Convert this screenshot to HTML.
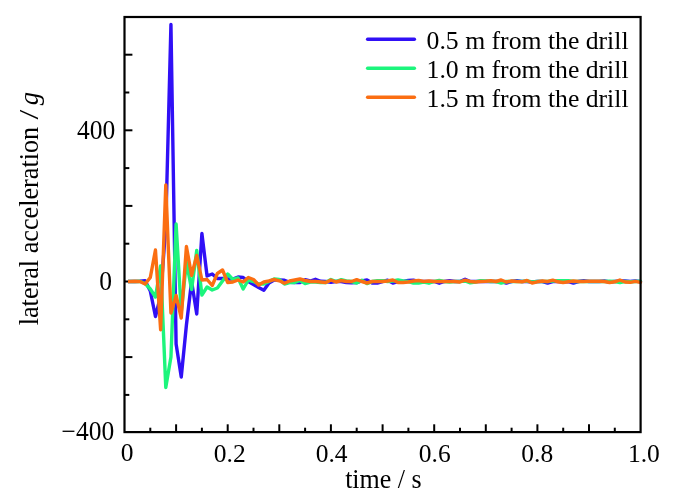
<!DOCTYPE html>
<html><head><meta charset="utf-8"><title>lateral acceleration</title>
<style>
html,body{margin:0;padding:0;background:#fff;}
body{width:700px;height:499px;overflow:hidden;}
svg{display:block;}
text{font-family:"Liberation Serif","Times New Roman",serif;font-size:25.5px;fill:#000;}
.c{fill:none;stroke-width:3.4;stroke-linejoin:round;stroke-linecap:round;}
.t line{stroke:#000;stroke-width:2;}
</style></head><body>
<svg width="700" height="499" viewBox="0 0 700 499">
<rect x="0" y="0" width="700" height="499" fill="#ffffff"/>
<g class="t"><line x1="124.5" y1="394.9" x2="129.3" y2="394.9"/><line x1="124.5" y1="357.1" x2="132.4" y2="357.1"/><line x1="124.5" y1="319.3" x2="129.3" y2="319.3"/><line x1="124.5" y1="281.5" x2="132.4" y2="281.5"/><line x1="124.5" y1="243.7" x2="129.3" y2="243.7"/><line x1="124.5" y1="205.9" x2="132.4" y2="205.9"/><line x1="124.5" y1="168.1" x2="129.3" y2="168.1"/><line x1="124.5" y1="130.3" x2="132.4" y2="130.3"/><line x1="124.5" y1="92.5" x2="129.3" y2="92.5"/><line x1="124.5" y1="54.7" x2="132.4" y2="54.7"/><line x1="150.3" y1="432.1" x2="150.3" y2="427.7"/><line x1="176.1" y1="432.1" x2="176.1" y2="424.3"/><line x1="201.9" y1="432.1" x2="201.9" y2="427.7"/><line x1="227.7" y1="432.1" x2="227.7" y2="424.3"/><line x1="253.5" y1="432.1" x2="253.5" y2="427.7"/><line x1="279.3" y1="432.1" x2="279.3" y2="424.3"/><line x1="305.1" y1="432.1" x2="305.1" y2="427.7"/><line x1="330.9" y1="432.1" x2="330.9" y2="424.3"/><line x1="356.7" y1="432.1" x2="356.7" y2="427.7"/><line x1="382.6" y1="432.1" x2="382.6" y2="424.3"/><line x1="408.4" y1="432.1" x2="408.4" y2="427.7"/><line x1="434.2" y1="432.1" x2="434.2" y2="424.3"/><line x1="460.0" y1="432.1" x2="460.0" y2="427.7"/><line x1="485.8" y1="432.1" x2="485.8" y2="424.3"/><line x1="511.6" y1="432.1" x2="511.6" y2="427.7"/><line x1="537.4" y1="432.1" x2="537.4" y2="424.3"/><line x1="563.2" y1="432.1" x2="563.2" y2="427.7"/><line x1="589.0" y1="432.1" x2="589.0" y2="424.3"/><line x1="614.8" y1="432.1" x2="614.8" y2="427.7"/></g>
<clipPath id="cp"><rect x="128" y="0" width="520" height="499"/></clipPath>
<g clip-path="url(#cp)">
<path class="c" stroke="#3010f6" d="M124.50 281.5 L129.66 281.5 L134.82 281.5 L139.98 281.3 L145.14 280.8 L150.30 291.0 L155.46 316.5 L160.62 296.0 L165.78 226.0 L170.94 24.5 L176.10 344.0 L181.26 377.0 L186.42 325.0 L191.58 281.5 L196.74 314.0 L201.90 233.5 L207.06 276.0 L212.22 274.0 L217.38 278.5 L222.54 278.5 L227.70 279.0 L232.86 279.0 L238.02 277.0 L243.18 277.5 L248.34 281.5 L253.50 284.5 L258.66 287.5 L263.82 290.3 L268.98 283.0 L274.14 280.0 L279.30 280.0 L284.46 280.3 L289.62 282.3 L294.78 282.5 L299.94 282.5 L305.10 279.7 L310.26 281.0 L315.42 279.3 L320.58 281.3 L325.74 281.5 L330.90 282.3 L336.06 281.5 L341.22 281.5 L346.38 282.6 L351.54 282.7 L356.70 282.6 L361.86 281.0 L367.02 280.0 L372.18 283.0 L377.34 283.0 L382.50 281.5 L387.66 280.2 L392.82 283.0 L397.98 281.5 L403.14 281.5 L408.30 280.5 L413.46 280.2 L418.62 281.5 L423.78 281.5 L428.94 281.5 L434.10 281.5 L439.26 283.2 L444.42 281.5 L449.58 280.6 L454.74 281.5 L459.90 281.5 L465.06 279.3 L470.22 281.5 L475.38 281.5 L480.54 281.5 L485.70 281.5 L490.86 281.5 L496.02 281.5 L501.18 281.5 L506.34 283.0 L511.50 281.5 L516.66 280.6 L521.82 281.5 L526.98 281.5 L532.14 282.0 L537.30 281.5 L542.46 281.5 L547.62 283.0 L552.78 281.5 L557.94 281.5 L563.10 282.0 L568.26 281.5 L573.42 283.0 L578.58 281.5 L583.74 280.6 L588.90 281.5 L594.06 281.5 L599.22 281.5 L604.38 281.0 L609.54 282.0 L614.70 281.5 L619.86 281.0 L625.02 281.0 L630.18 281.5 L635.34 281.0 L640.50 281.8"/>
<path class="c" stroke="#1cf57c" d="M124.50 281.5 L129.66 281.5 L134.82 281.5 L139.98 281.3 L145.14 283.5 L150.30 289.0 L155.46 297.0 L160.62 266.0 L165.78 387.5 L170.94 357.0 L176.10 224.0 L181.26 312.0 L186.42 262.0 L191.58 289.5 L196.74 250.5 L201.90 295.0 L207.06 287.0 L212.22 290.0 L217.38 288.0 L222.54 281.0 L227.70 274.0 L232.86 279.5 L238.02 278.0 L243.18 289.0 L248.34 280.0 L253.50 281.5 L258.66 284.0 L263.82 284.0 L268.98 281.5 L274.14 279.0 L279.30 279.5 L284.46 284.0 L289.62 282.5 L294.78 282.5 L299.94 280.5 L305.10 283.5 L310.26 282.0 L315.42 282.0 L320.58 282.5 L325.74 282.5 L330.90 279.5 L336.06 281.5 L341.22 279.7 L346.38 281.0 L351.54 281.5 L356.70 283.0 L361.86 280.2 L367.02 283.6 L372.18 281.5 L377.34 280.7 L382.50 280.7 L387.66 281.5 L392.82 281.0 L397.98 280.0 L403.14 281.0 L408.30 281.5 L413.46 283.0 L418.62 283.0 L423.78 282.0 L428.94 283.2 L434.10 281.5 L439.26 280.5 L444.42 281.5 L449.58 282.0 L454.74 281.5 L459.90 281.5 L465.06 281.0 L470.22 282.8 L475.38 282.0 L480.54 280.6 L485.70 281.0 L490.86 281.5 L496.02 281.5 L501.18 283.0 L506.34 281.5 L511.50 281.5 L516.66 281.5 L521.82 281.5 L526.98 281.0 L532.14 282.0 L537.30 281.5 L542.46 281.5 L547.62 281.5 L552.78 281.0 L557.94 280.6 L563.10 280.7 L568.26 280.7 L573.42 281.5 L578.58 281.5 L583.74 281.5 L588.90 281.5 L594.06 281.5 L599.22 281.5 L604.38 281.5 L609.54 281.2 L614.70 281.5 L619.86 282.6 L625.02 281.5 L630.18 281.8 L635.34 281.5 L640.50 281.3"/>
<path class="c" stroke="#fb6e12" d="M124.50 281.5 L129.66 281.5 L134.82 281.3 L139.98 281.5 L145.14 284.0 L150.30 277.5 L155.46 250.0 L160.62 329.7 L165.78 185.0 L170.94 313.0 L176.10 295.5 L181.26 318.0 L186.42 246.5 L191.58 275.5 L196.74 255.5 L201.90 280.0 L207.06 279.5 L212.22 285.5 L217.38 273.5 L222.54 270.0 L227.70 282.5 L232.86 282.0 L238.02 280.0 L243.18 282.0 L248.34 277.5 L253.50 279.5 L258.66 285.0 L263.82 282.0 L268.98 281.0 L274.14 279.5 L279.30 280.8 L284.46 283.3 L289.62 281.0 L294.78 280.0 L299.94 279.0 L305.10 280.5 L310.26 281.5 L315.42 281.5 L320.58 282.0 L325.74 282.5 L330.90 280.0 L336.06 282.0 L341.22 280.5 L346.38 281.5 L351.54 281.5 L356.70 279.7 L361.86 281.5 L367.02 283.0 L372.18 281.5 L377.34 281.5 L382.50 281.5 L387.66 281.0 L392.82 280.0 L397.98 282.5 L403.14 282.5 L408.30 282.0 L413.46 281.0 L418.62 280.5 L423.78 281.5 L428.94 281.0 L434.10 281.5 L439.26 281.5 L444.42 281.5 L449.58 281.5 L454.74 281.5 L459.90 282.0 L465.06 280.2 L470.22 281.5 L475.38 282.0 L480.54 281.5 L485.70 281.3 L490.86 280.7 L496.02 281.5 L501.18 280.0 L506.34 282.0 L511.50 281.0 L516.66 281.5 L521.82 281.8 L526.98 280.5 L532.14 283.0 L537.30 281.8 L542.46 281.0 L547.62 281.5 L552.78 280.2 L557.94 281.8 L563.10 282.5 L568.26 281.8 L573.42 281.0 L578.58 281.5 L583.74 281.5 L588.90 281.3 L594.06 281.3 L599.22 281.3 L604.38 281.5 L609.54 282.5 L614.70 281.8 L619.86 280.0 L625.02 282.0 L630.18 282.3 L635.34 281.3 L640.50 282.3"/>
</g>
<rect x="124.5" y="17.0" width="516.1" height="415.1" fill="none" stroke="#000" stroke-width="2.2"/>
<g>
<text transform="translate(127.1 460.9) scale(1.000 1.020)" text-anchor="middle" style="font-size:25.5px;">0</text>
<text transform="translate(229.7 461.6) scale(1.000 1.020)" text-anchor="middle" style="font-size:25.5px;">0.2</text>
<text transform="translate(331.6 461.6) scale(1.000 1.020)" text-anchor="middle" style="font-size:25.5px;">0.4</text>
<text transform="translate(434.7 461.6) scale(1.000 1.020)" text-anchor="middle" style="font-size:25.5px;">0.6</text>
<text transform="translate(537.2 461.6) scale(1.000 1.020)" text-anchor="middle" style="font-size:25.5px;">0.8</text>
<text transform="translate(643.9 461.6) scale(1.000 1.020)" text-anchor="middle" style="font-size:25.5px;">1.0</text>
<text transform="translate(115.2 138.9) scale(1.000 1.040)" text-anchor="end" style="font-size:25.5px;">400</text>
<text transform="translate(112.0 290.0) scale(1.000 1.040)" text-anchor="end" style="font-size:25.5px;">0</text>
<text transform="translate(114.2 439.8) scale(1.000 1.040)" text-anchor="end" style="font-size:25.5px;">−400</text>
<text transform="translate(383.4 487.7) scale(1.000 1.040)" text-anchor="middle" style="font-size:26.0px;">time / s</text>
<text transform="translate(38.3 325.3) rotate(-90) scale(1.000 1.040)" text-anchor="start" style="font-size:26.2px;">lateral acceleration</text>
<text transform="translate(38.3 119.4) rotate(-90) scale(1.360 1.040)" text-anchor="start" style="font-size:26.1px;">/</text>
<text transform="translate(38.3 105.3) rotate(-90) scale(1.000 1.040)" text-anchor="start" style="font-size:26.5px;font-style:italic;">g</text>
<text transform="translate(426.6 48.7) scale(1.008 1.020)" text-anchor="start" style="font-size:25.5px;">0.5 m from the drill</text>
<text transform="translate(426.6 77.7) scale(1.008 1.020)" text-anchor="start" style="font-size:25.5px;">1.0 m from the drill</text>
<text transform="translate(426.6 106.7) scale(1.008 1.020)" text-anchor="start" style="font-size:25.5px;">1.5 m from the drill</text>
</g>
<g class="c"><line x1="367.6" y1="39.2" x2="414.4" y2="39.2" stroke="#3010f6"/><line x1="367.6" y1="68.2" x2="414.4" y2="68.2" stroke="#1cf57c"/><line x1="367.6" y1="97.2" x2="414.4" y2="97.2" stroke="#fb6e12"/></g>
</svg>
</body></html>
